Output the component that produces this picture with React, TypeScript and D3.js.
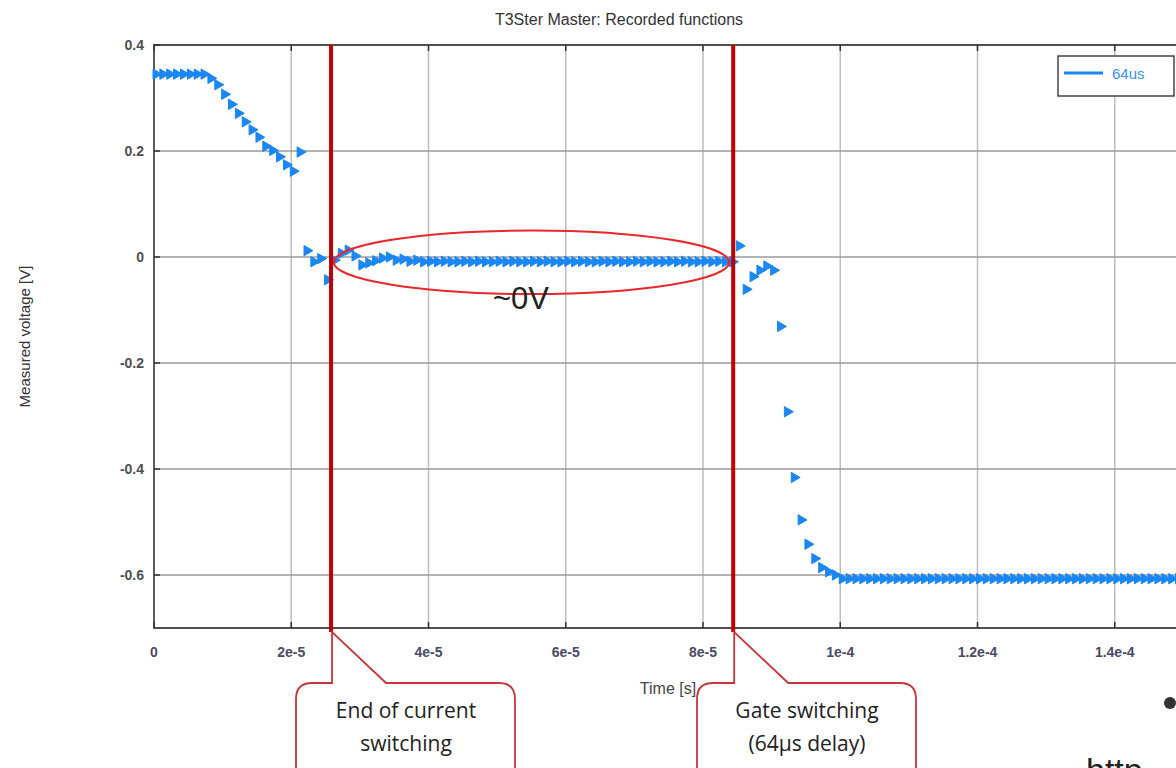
import React, { useEffect, useRef } from 'react';
import * as d3 from 'd3';

// sampled once per microsecond, starting at t = 0
const sampleStepUs = 1;
const voltage64us = [
  0.345, 0.345, 0.345, 0.345, 0.345, 0.345, 0.345, 0.345,
  0.337, 0.325, 0.307, 0.288, 0.271, 0.255, 0.240, 0.226, 0.209, 0.201, 0.189, 0.174, 0.162, 0.198,
  0.012, -0.009, -0.003, -0.043, -0.006, 0.007, 0.013, 0.002, -0.015, -0.011, -0.007, -0.002, 0.0, -0.006,
  -0.004, -0.008, -0.006, -0.009, -0.008, -0.009, -0.008, -0.009, -0.009, -0.008,
  -0.009, -0.008, -0.009, -0.009, -0.008, -0.009, -0.008, -0.009, -0.009, -0.008,
  -0.009, -0.008, -0.009, -0.009, -0.008, -0.009, -0.008, -0.009, -0.009, -0.008,
  -0.009, -0.008, -0.009, -0.009, -0.008, -0.009, -0.008, -0.009, -0.009, -0.008,
  -0.009, -0.008, -0.009, -0.009, -0.008, -0.009, -0.008, -0.009, -0.009,
  0.021, -0.061, -0.037, -0.025, -0.017, -0.025, -0.131, -0.292, -0.416, -0.496, -0.542, -0.569, -0.586, -0.594, -0.600,
  -0.607, -0.607, -0.607, -0.607, -0.607, -0.607, -0.607, -0.607, -0.607, -0.607,
  -0.607, -0.607, -0.607, -0.607, -0.607, -0.607, -0.607, -0.607, -0.607, -0.607,
  -0.607, -0.607, -0.607, -0.607, -0.607, -0.607, -0.607, -0.607, -0.607, -0.607,
  -0.607, -0.607, -0.607, -0.607, -0.607, -0.607, -0.607, -0.607, -0.607, -0.607,
  -0.607, -0.607, -0.607, -0.607, -0.607, -0.607, -0.607, -0.607, -0.607, -0.607,
];

const xTicks = [0, 2e-5, 4e-5, 6e-5, 8e-5, 1e-4, 1.2e-4, 1.4e-4];
const xTickLabels = ['0', '2e-5', '4e-5', '6e-5', '8e-5', '1e-4', '1.2e-4', '1.4e-4'];
const yTicks = [0.4, 0.2, 0, -0.2, -0.4, -0.6];
const yTickLabels = ['0.4', '0.2', '0', '-0.2', '-0.4', '-0.6'];

// event markers (s)
const endOfCurrentSwitching = 2.58e-5;
const gateSwitching = 8.44e-5;

const W = 1176;
const H = 768;
const font = 'Arial, "Liberation Sans", sans-serif';

function App() {
  const ref = useRef<SVGSVGElement>(null);

  useEffect(() => {
    const svg = d3.select(ref.current);
    svg.selectAll('*').remove();

    const x = d3.scaleLinear().domain([0, 1.6e-4]).range([154, 1252]);
    const y = d3.scaleLinear().domain([-0.7, 0.4]).range([628, 45]);
    const data = voltage64us.map((v, i) => ({ t: i * sampleStepUs * 1e-6, v }));

    svg.append('rect').attr('width', W).attr('height', H).attr('fill', '#fff');

    // grid
    const g = svg.append('g');
    g.selectAll('.vg').data(xTicks).join('line')
      .attr('x1', d => x(d)).attr('x2', d => x(d)).attr('y1', y(0.4)).attr('y2', y(-0.7))
      .attr('stroke', '#bdbdbd').attr('stroke-width', 1.5);
    g.selectAll('.hg').data(yTicks).join('line')
      .attr('x1', x(0)).attr('x2', W).attr('y1', d => y(d)).attr('y2', d => y(d))
      .attr('stroke', '#9a9a9a').attr('stroke-width', 1.5);

    // frame
    g.append('path')
      .attr('d', `M${W},${y(0.4)}H${x(0)}V${y(-0.7)}H${W}`)
      .attr('fill', 'none').attr('stroke', '#505050').attr('stroke-width', 1.8);

    // inward ticks
    g.selectAll('.yt').data(yTicks).join('line')
      .attr('x1', x(0)).attr('x2', x(0) + 6).attr('y1', d => y(d)).attr('y2', d => y(d))
      .attr('stroke', '#333').attr('stroke-width', 1.5);
    g.selectAll('.xtb').data(xTicks).join('line')
      .attr('x1', d => x(d)).attr('x2', d => x(d)).attr('y1', y(-0.7)).attr('y2', y(-0.7) - 6)
      .attr('stroke', '#333').attr('stroke-width', 1.5);
    g.selectAll('.xtt').data(xTicks).join('line')
      .attr('x1', d => x(d)).attr('x2', d => x(d)).attr('y1', y(0.4)).attr('y2', y(0.4) + 6)
      .attr('stroke', '#333').attr('stroke-width', 1.5);

    // tick labels
    g.selectAll('.yl').data(yTicks).join('text')
      .attr('x', 144).attr('y', d => y(d) + 5).attr('text-anchor', 'end')
      .style('font-family', font).style('font-size', '14px').style('font-weight', 'bold').attr('fill', '#505050')
      .text((d, i) => yTickLabels[i]);
    g.selectAll('.xl').data(xTicks).join('text')
      .attr('x', d => x(d)).attr('y', 657).attr('text-anchor', 'middle')
      .style('font-family', font).style('font-size', '14px').style('font-weight', 'bold').attr('fill', '#4a4a66')
      .text((d, i) => xTickLabels[i]);

    // titles
    svg.append('text').attr('x', 619).attr('y', 25).attr('text-anchor', 'middle')
      .style('font-family', font).style('font-size', '16px').attr('fill', '#333')
      .text('T3Ster Master: Recorded functions');
    svg.append('text').attr('transform', `translate(30,${y(-0.15)}) rotate(-90)`).attr('text-anchor', 'middle')
      .style('font-family', font).style('font-size', '15px').attr('fill', '#333')
      .text('Measured voltage [V]');
    svg.append('text').attr('x', 668).attr('y', 694).attr('text-anchor', 'middle')
      .style('font-family', font).style('font-size', '16px').attr('fill', '#444')
      .text('Time [s]');

    // data markers
    const tri = d3.symbol().type(d3.symbolTriangle).size(46);
    svg.append('g').selectAll('path').data(data).join('path')
      .attr('d', tri)
      .attr('transform', d => `translate(${x(d.t) + 2},${y(d.v)}) rotate(90)`)
      .attr('fill', '#1a87f5').attr('stroke', '#1a87f5').attr('stroke-width', 1).attr('stroke-linejoin', 'round');

    // legend
    const lg = svg.append('g');
    lg.append('rect').attr('x', 1058).attr('y', 56).attr('width', 116).attr('height', 40)
      .attr('fill', '#fff').attr('stroke', '#444').attr('stroke-width', 1.5);
    lg.append('line').attr('x1', 1064).attr('x2', 1103).attr('y1', 73).attr('y2', 73)
      .attr('stroke', '#1a87f5').attr('stroke-width', 3);
    lg.append('text').attr('x', 1112).attr('y', 79)
      .style('font-family', font).style('font-size', '15px').attr('fill', '#3a8ef5').text('64us');

    // ~0V ellipse
    svg.append('ellipse')
      .attr('cx', x(5.5e-5)).attr('cy', y(-0.01))
      .attr('rx', x(2.88e-5) - x(0)).attr('ry', y(-0.06) - y(0))
      .attr('fill', 'none').attr('stroke', '#e8282b').attr('stroke-width', 2);
    svg.append('text').attr('x', 493).attr('y', 309)
      .style('font-family', '"Liberation Sans", Arial, sans-serif').style('font-size', '31px').attr('fill', '#222')
      .text('~0V');

    // event lines
    [endOfCurrentSwitching, gateSwitching].forEach(t => {
      svg.append('line').attr('x1', x(t)).attr('x2', x(t)).attr('y1', y(0.4)).attr('y2', 632)
        .attr('stroke', '#c00000').attr('stroke-width', 4);
    });

    // callouts
    const callout = (left: number, tipX: number, lines: string[]) => {
      const top = 683, right = left + 219, bottom = 800, r = 16;
      const px1 = tipX, px2 = tipX + 54;
      const d = `M${px1},${top} L${px1},632 L${px2},${top} L${right - r},${top} Q${right},${top} ${right},${top + r}` +
        ` L${right},${bottom} L${left},${bottom} L${left},${top + r} Q${left},${top} ${left + r},${top} Z`;
      svg.append('path').attr('d', d).attr('fill', '#fff').attr('stroke', '#c8363a').attr('stroke-width', 1.8);
      lines.forEach((s, i) => {
        svg.append('text').attr('x', left + 110).attr('y', 718 + i * 33).attr('text-anchor', 'middle')
          .style('font-family', '"Open Sans", "Liberation Sans", sans-serif').style('font-size', '21px').attr('fill', '#222')
          .text(s);
      });
    };
    callout(296, x(endOfCurrentSwitching) + 1, ['End of current', 'switching']);
    callout(697, x(gateSwitching) + 1, ['Gate switching', '(64µs delay)']);

    // slide bullet remnants at bottom right
    svg.append('circle').attr('cx', 1170).attr('cy', 703).attr('r', 6).attr('fill', '#333');
    svg.append('text').attr('x', 1086).attr('y', 782)
      .style('font-family', '"Liberation Sans", sans-serif').style('font-size', '34px').attr('fill', '#222')
      .text('http');
  }, []);

  return (
    <svg ref={ref} width={W} height={H} style={{ position: 'absolute', left: 0, top: 0 }} />
  );
}

export default App;
